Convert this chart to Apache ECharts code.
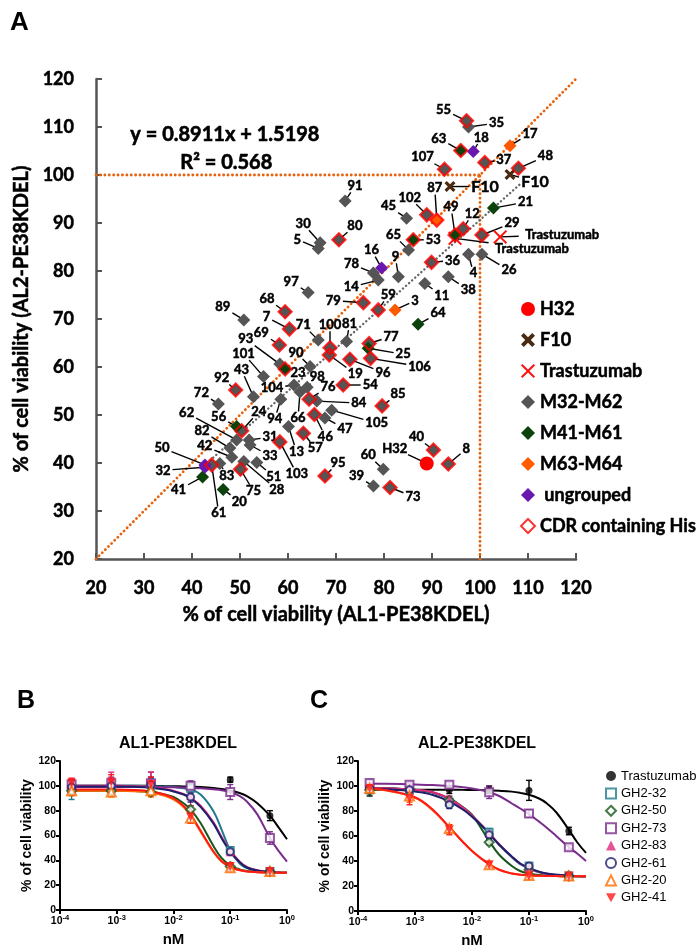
<!DOCTYPE html>
<html>
<head>
<meta charset="UTF-8">
<title>cell viability</title>
<style>
  * { margin: 0; padding: 0 }
  #chart { width: 697px; height: 950px; }
</style>
</head>
<body>
<div id="chart"></div>
<script src="https://cdn.jsdelivr.net/npm/echarts@6/dist/echarts.min.js"></script>
<script>
// ---------- panel A : [id, AL1 viability, AL2 viability]
var m32Points = [
  ['55',97.2,111.3],['35',97.6,110.0],['107',92.6,101.2],['37',101.0,102.6],['48',108.0,101.4],
  ['91',71.9,94.6],['102',88.9,91.7],['45',84.7,91.0],['12',96.5,88.8],['29',100.4,87.5],
  ['80',70.6,86.5],['30',66.7,85.9],['5',66.3,84.7],['65',85.1,84.4],['4',97.6,83.5],
  ['26',100.4,83.5],['36',89.9,81.8],['9',83.0,78.8],['78',77.8,79.6],['14',78.8,78.1],
  ['11',88.5,77.4],['38',93.4,78.8],['79',75.7,73.4],['59',78.8,71.9],['81',72.2,65.3],
  ['77',76.9,64.9],['106',77.2,61.8],['96',72.9,61.6],['19',68.6,62.5],['100',68.75,64.0],
  ['54',71.5,56.25],['85',79.6,51.9],['84',66.0,52.9],['105',69.1,51.0],['47',67.7,49.4],
  ['40',90.3,42.7],['8',93.4,39.8],['60',79.85,38.7],['39',77.8,35.2],['73',81.25,34.9],
  ['95',67.7,37.3],['72',45.5,52.3],['92',49.1,55.2],['43',52.8,53.8],['104',61.25,56.25],
  ['94',58.5,53.3],['66',62.5,54.8],['98',64.0,55.8],['76',64.4,53.3],['46',65.5,50.1],
  ['57',63.2,46.2],['13',60.1,47.6],['62',49.3,44.8],['24',50.35,46.7],['31',51.9,44.8],
  ['33',52.1,43.75],['82',47.9,43.1],['42',48.3,41.2],['83',45.8,39.9],['61',44.1,39.6],
  ['75',50.1,38.7],['28',50.8,40.3],['51',53.5,40.1],['103',58.3,44.4],['97',64.2,75.5],
  ['68',59.4,71.5],['89',50.8,69.8],['7',60.3,67.9],['71',66.3,65.6],['69',58.2,64.6],
  ['93',58.3,60.6],['90',64.6,60.1],['101',54.9,58.0]
];
var m41Points = [
  ['63',96.0,105.1],['49',94.8,87.5],['21',102.8,93.1],['53',86.1,86.5],['64',87.1,68.9],
  ['25',76.7,63.9],['56',49.3,47.6],['41',42.2,37.1],['20',46.5,34.5],['23',59.4,59.6]
];
var m63Points = [['17',106.25,106.1],['87',91.0,90.6],['3',82.3,71.9]];
var ungroupedPoints = [['18',98.6,104.9],['16',79.5,80.6],['50',42.7,39.6],['32',42.7,39.1]];
var h32Points = [['H32',88.9,39.9]];
var f10Points = [['F10',106.25,100.1],['F10',93.75,97.6]];
var trastPoints = [['Trastuzumab',104.2,87.1],['Trastuzumab',94.8,86.8]];
var cdrIds = ['55','63','107','37','48','87','102','49','12','29','80','53','36','79','59','77',
  '106','96','19','100','54','85','40','8','73','95','92','76','46','57','24','61','75','103',
  '68','7','69','23'];
var regX = [42.5, 108.7];
var regY = [39.4, 98.4];

// ---------- panels B / C
var doseX = [0.00016, 0.0008, 0.004, 0.02, 0.1, 0.5];
var fitX = [0.00014,0.0003,0.001,0.002,0.004,0.007,0.01,0.015,0.02,0.03,0.05,0.07,0.1,0.15,0.2,0.3,0.5,0.7,1.0];
var drugNames = ['Trastuzumab','GH2-32','GH2-50','GH2-73','GH2-83','GH2-61','GH2-20','GH2-41'];

var al1Mean = [
  [99,99,98,100,105,76],
  [97,98,101,98,48,31],
  [96,96,95,81,35,31],
  [101,102,102,100,95,58],
  [101,104,103,92,47,31],
  [99,100,101,91,47,31],
  [96,95,96,74,34,31],
  [102,103,101,75,35,31]
];
var al1Err = [
  [4,5,4,3,2,4],[8,6,5,4,3,2],[3,3,3,3,2,2],[4,5,9,4,6,5],
  [5,7,8,8,3,3],[3,4,6,4,3,2],[4,4,5,4,3,2],[4,6,6,5,3,3]
];
var al1Fit = [
  [100,100,100,100,100,99.8,99.7,99.5,99.3,99,98.3,97.5,96.3,94,91.5,86,76,67,57],
  [100,100,100,100,99.8,99.5,99,98,97,93,80,65,48,37,33.5,31.5,30.5,30.2,30],
  [96,96,96,95.8,95,93,91,86,81,70,52,42,36,32.5,31.5,30.8,30.3,30.1,30],
  [99,99,99,99,99,98.9,98.8,98.6,98.4,98,97.2,96.5,95,91.5,87,77,58,48,39],
  [100,100,100,99.7,99,97.5,96,93.5,90.5,84,71,59,48,38.5,34.5,32,30.8,30.3,30],
  [99.5,99.5,99.5,99.2,98.5,97,95.5,93,90,83,70,58,47,38,34,31.8,30.6,30.2,30],
  [96,96,96,95.7,94.5,92,89,83,76,63,47,39,34.5,32,31,30.5,30.2,30.1,30],
  [97,97,97,96.7,95.5,93,90,84,77,64,47.5,39.5,34.5,32,31,30.5,30.2,30.1,30]
];

var al2Mean = [
  [96,97,97,97,96.5,64],
  [97,97,87,63,36,28],
  [97,97,88.5,55,33,28],
  [102.5,101,101,95,78,51],
  [98,98,89,62,35,28],
  [98,97,85,61,36,28],
  [98,92,66,37,28.5,28],
  [98,90,65,37,28,28]
];
var al2Err = [
  [4,3,3,3,8,3],[3,3,3,3,2,2],[3,3,3,2,2,2],[2,2,2,5,3,2],
  [3,3,3,3,2,2],[3,3,3,3,2,2],[3,5,3,2,2,2],[3,5,4,2,2,2]
];
var al2Fit = [
  [97,97,97,97,97,96.9,96.8,96.7,96.5,96.2,95.5,94.5,93,90,86.5,79,65,55,46.5],
  [98.5,98.3,97,95,89.5,82,76,68,62,53,43,37.5,34,31,29.8,28.8,28.2,28,27.8],
  [98.5,98.3,97,95,90,83,77,65,56,45,36,32,30,28.8,28.3,28,27.8,27.7,27.7],
  [102,101.8,101.2,100.8,100,99,98,96.5,95,92,86,82,77.5,71.5,67,60,51,46,40],
  [98.5,98.3,97,95.2,89.8,82.5,76.5,68.5,62.5,53.5,43.5,38,34.3,31.2,30,29,28.3,28,27.8],
  [98,97.5,95.5,93,87.5,81,75.5,68,62,53,43.5,38,34.5,31.5,30,29,28.3,28,27.8],
  [98,96.5,90.5,81,67,55,48,41.5,37.5,33,30,29,28.5,28.2,28,27.9,27.8,27.8,27.8],
  [98.2,96.8,91,81.5,67,55,48,41.5,37.5,33,30,29,28.5,28.2,28,27.9,27.8,27.8,27.8]
];

// ---------- styles / layout (not data)
var drugStyle = [
  {color: '#000000', symbol: 'circle', size: 7, hollow: false},
  {color: '#1f7a8c', symbol: 'rect', size: 7, hollow: true},
  {color: '#17581a', symbol: 'diamond', size: 9, hollow: true},
  {color: '#7a2c8c', symbol: 'rect', size: 8, hollow: true},
  {color: '#e0287c', symbol: 'triangle', size: 9, hollow: false},
  {color: '#1c1f6b', symbol: 'circle', size: 7, hollow: true},
  {color: '#ff6a00', symbol: 'triangle', size: 9, hollow: true},
  {color: '#ff1a1a', symbol: 'path://M0,0L10,0L5,9Z', size: 9, hollow: false}
];

var labelOffset = {
  '55':[-23,-11],'35':[28,-4],'63':[-22,-12],'18':[8,-14],'107':[-22,-12],'37':[19,-3],
  '17':[20,-12],'48':[27,-12],'F10':[25,7],'F10#1':[35,0],'91':[10,-15],'87':[-2,-32],
  '102':[-17,-17],'45':[-18,-12],'49':[-4,-28],'12':[9,-15],'21':[32,-6],'29':[30,-12],
  'Trastuzumab':[62,-2],'Trastuzumab#1':[77,10],'80':[16,-14],'30':[-17,-19],'5':[-21,-9],
  '65':[-15,-15],'53':[20,0],'4':[5,19],'26':[27,16],'36':[21,-2],'16':[-10,-18],'9':[-3,-20],
  '78':[-22,-9],'14':[-27,7],'11':[17,12],'38':[20,13],'79':[-30,-2],'59':[10,-15],'3':[20,-9],
  '64':[20,-11],'81':[3,-18],'77':[22,-7],'25':[35,6],'106':[49,8],'96':[33,13],'19':[26,19],
  '100':[0,-23],'54':[27,0],'85':[16,-12],'84':[42,2],'105':[45,13],'47':[20,11],'40':[-17,-13],
  'H32':[-32,-15],'8':[18,-15],'60':[-15,-14],'39':[-17,-10],'73':[23,9],'95':[13,-13],
  '72':[-17,-11],'92':[-14,-12],'43':[-12,-27],'104':[-22,3],'94':[-6,20],'66':[-2,26],
  '98':[10,-10],'76':[19,-12],'46':[11,22],'57':[12,15],'13':[8,25],'62':[-50,-27],'56':[-18,-10],
  '24':[17,-19],'31':[21,-3],'33':[20,11],'82':[-28,-17],'42':[-27,-11],'83':[7,12],'50':[-43,-17],
  '32':[-42,3],'61':[7,48],'41':[-24,13],'20':[16,12],'75':[13,22],'28':[33,28],'51':[17,14],
  '103':[17,32],'97':[-17,-11],'68':[-18,-13],'89':[-21,-13],'7':[-23,-12],'71':[-15,-15],
  '69':[-18,-12],'93':[-34,-25],'23':[13,4],'90':[-14,-14],'101':[-20,-23]
};

var xMark = 'path://M0,2L2,0L5,3L8,0L10,2L7,5L10,8L8,10L5,7L2,10L0,8L3,5Z';
var xThin = 'path://M1,0L5,4L9,0L10,1L6,5L10,9L9,10L5,6L1,10L0,9L4,5L0,1Z';
var MAIN_FONT = 'Lato';
var PANEL_FONT = 'Liberation Sans';
var HEAVY = {textBorderColor: '#000', textBorderWidth: 0.5};

function xy(rows) { return rows.map(function (r) { return [r[1], r[2]]; }); }

// labels + leader lines for panel A
var labelItems = [];
var seen = {};
[m32Points, m41Points, m63Points, ungroupedPoints, h32Points, f10Points, trastPoints].forEach(function (rows) {
  rows.forEach(function (r) {
    var n = seen[r[0]] || 0;
    seen[r[0]] = n + 1;
    var key = n ? r[0] + '#' + n : r[0];
    var off = labelOffset[key] || [12, -12];
    labelItems.push({x: r[1], y: r[2], text: r[0], dx: off[0], dy: off[1], size: r[0] === 'F10' ? 16 : 13});
  });
});

var allGroupRows = m32Points.concat(m41Points, m63Points, ungroupedPoints);
var cdrRows = allGroupRows.filter(function (r) { return cdrIds.indexOf(r[0]) >= 0; });

function renderLabel(params, api) {
  var it = labelItems[params.dataIndex];
  var p = api.coord([api.value(0), api.value(1)]);
  var lx = p[0] + it.dx, ly = p[1] + it.dy;
  var hw = it.text.length * it.size * 0.29 + 2, hh = it.size * 0.5;
  var t = Math.min(it.dx ? hw / Math.abs(it.dx) : 99, it.dy ? hh / Math.abs(it.dy) : 99);
  var kids = [];
  if (t < 1) {
    kids.push({type: 'line', shape: {x1: p[0], y1: p[1], x2: lx - it.dx * t, y2: ly - it.dy * t},
      style: {stroke: '#000', lineWidth: 1.4}});
  }
  kids.push({type: 'text', style: {text: it.text, x: lx, y: ly, align: 'center', verticalAlign: 'middle',
    textAlign: 'center', textVerticalAlign: 'middle', stroke: '#000', lineWidth: 0.5,
    font: 'bold ' + it.size + 'px ' + MAIN_FONT, fill: '#000'}});
  return {type: 'group', children: kids};
}

function renderErr(params, api) {
  var x = api.value(0), y = api.value(1), e = api.value(2);
  var a = api.coord([x, y + e]), b = api.coord([x, y - e]);
  var st = {stroke: api.visual('color'), lineWidth: 1.4};
  return {type: 'group', children: [
    {type: 'line', shape: {x1: a[0], y1: a[1], x2: b[0], y2: b[1]}, style: st},
    {type: 'line', shape: {x1: a[0] - 3, y1: a[1], x2: a[0] + 3, y2: a[1]}, style: st},
    {type: 'line', shape: {x1: b[0] - 3, y1: b[1], x2: b[0] + 3, y2: b[1]}, style: st}
  ]};
}

function powLabel(v) {
  var e = Math.round(Math.log(v) / Math.LN10);
  return '{b|10}{s|' + e + '}';
}

var series = [];
var dotted = {type: [0.1, 4.3], cap: 'round', width: 2.8, color: '#e8610c'};
function refLine(data, style) {
  series.push({type: 'line', xAxisIndex: 0, yAxisIndex: 0, data: data, symbol: 'none', silent: true,
    lineStyle: style, z: 1});
}
refLine([[20, 20], [120, 120]], dotted);
refLine([[20, 100], [100, 100]], dotted);
refLine([[100, 20], [100, 100]], dotted);
refLine([[regX[0], regY[0]], [regX[1], regY[1]]], {type: [0.1, 4], cap: 'round', width: 2.4, color: '#666'});

series.push({type: 'custom', xAxisIndex: 0, yAxisIndex: 0, renderItem: renderLabel, z: 2, silent: true,
  data: labelItems.map(function (d) { return [d.x, d.y]; }), encode: {x: 0, y: 1}});

function groupSeries(name, rows, symbol, size, color) {
  series.push({name: name, type: 'scatter', xAxisIndex: 0, yAxisIndex: 0, data: xy(rows),
    symbol: symbol, symbolSize: size, itemStyle: {color: color, opacity: 1}, z: 3});
}
groupSeries('H32', h32Points, 'circle', 14, '#ff0000');
groupSeries('F10', f10Points, xMark, 11, '#4a2a10');
groupSeries('Trastuzumab', trastPoints, xThin, 14, '#ff1010');
groupSeries('M32-M62', m32Points, 'diamond', 13, '#555555');
groupSeries('M41-M61', m41Points, 'diamond', 13, '#0c420c');
groupSeries('M63-M64', m63Points, 'diamond', 13, '#ff5a00');
groupSeries(' ungrouped', ungroupedPoints, 'diamond', 13, '#6a17b0');
series.push({name: 'CDR containing His', type: 'scatter', xAxisIndex: 0, yAxisIndex: 0, data: xy(cdrRows),
  symbol: 'diamond', symbolSize: 13, z: 4,
  itemStyle: {color: 'rgba(255,255,255,0)', borderColor: '#ff0000', borderWidth: 2.2}});

// panels B and C
function panelSeries(axisIdx, means, errs, fits) {
  drugNames.forEach(function (nm, i) {
    var s = drugStyle[i];
    var sname = nm === 'Trastuzumab' ? 'Trastuzumab ' : nm;
    series.push({type: 'line', xAxisIndex: axisIdx, yAxisIndex: axisIdx, symbol: 'none', smooth: 0.4,
      silent: true, z: 2, lineStyle: {color: s.color, width: 2},
      data: fitX.map(function (x, j) { return [x, fits[i][j]]; })});
    series.push({type: 'custom', xAxisIndex: axisIdx, yAxisIndex: axisIdx, renderItem: renderErr, z: 3,
      silent: true, itemStyle: {color: s.color}, encode: {x: 0, y: 1},
      data: doseX.map(function (x, j) { return [x, means[i][j], errs[i][j]]; })});
    series.push({name: sname, type: 'scatter', xAxisIndex: axisIdx, yAxisIndex: axisIdx, z: 4,
      symbol: s.symbol, symbolSize: s.size,
      itemStyle: s.hollow ? {color: '#ffffff', borderColor: s.color, borderWidth: 2} : {color: s.color},
      data: doseX.map(function (x, j) { return [x, means[i][j]]; })});
  });
}
panelSeries(1, al1Mean, al1Err, al1Fit);
panelSeries(2, al2Mean, al2Err, al2Fit);

var panelY = function (idx) {
  return {gridIndex: idx, type: 'value', min: 0, max: 120, interval: 20,
    name: '% of cell viability', nameLocation: 'middle', nameGap: idx === 1 ? 21 : 24,
    nameTextStyle: {fontFamily: PANEL_FONT, fontWeight: 'bold', fontSize: 14, color: '#000'},
    axisLine: {show: true, lineStyle: {color: '#000', width: 2}},
    axisTick: {show: true, inside: false, length: 4, lineStyle: {width: 2}},
    axisLabel: {fontFamily: PANEL_FONT, fontWeight: 'bold', fontSize: 10.5, color: '#000', margin: 4},
    splitLine: {show: false}};
};
var panelX = function (idx) {
  return {gridIndex: idx, type: 'log', logBase: 10, min: 0.0001, max: 1,
    name: 'nM', nameLocation: 'middle', nameGap: 22,
    nameTextStyle: {fontFamily: PANEL_FONT, fontWeight: 'bold', fontSize: 15, color: '#000'},
    axisLine: {show: true, lineStyle: {color: '#000', width: 2}},
    axisTick: {show: true, inside: false, length: 4, lineStyle: {width: 2}},
    minorTick: {show: false},
    axisLabel: {formatter: powLabel, margin: 4, rich: {
      b: {fontFamily: PANEL_FONT, fontWeight: 'bold', fontSize: 10.5, color: '#000', lineHeight: 14},
      s: {fontFamily: PANEL_FONT, fontWeight: 'bold', fontSize: 7.5, color: '#000', lineHeight: 8, verticalAlign: 'top'}
    }},
    splitLine: {show: false}};
};

var mainText = function (size) {
  return Object.assign({fontFamily: MAIN_FONT, fontWeight: 'bold', fontSize: size, color: '#000'}, HEAVY);
};

var chart = echarts.init(document.getElementById('chart'));
chart.setOption({
  animation: false,
  backgroundColor: '#ffffff',
  textStyle: {fontFamily: MAIN_FONT},
  title: [
    {text: 'A', left: 5, top: 5, textStyle: {fontFamily: PANEL_FONT, fontWeight: 'bold', fontSize: 26, color: '#000'}},
    {text: 'B', left: 12, top: 684, textStyle: {fontFamily: PANEL_FONT, fontWeight: 'bold', fontSize: 25, color: '#000'}},
    {text: 'C', left: 305, top: 684, textStyle: {fontFamily: PANEL_FONT, fontWeight: 'bold', fontSize: 25, color: '#000'}},
    {text: 'AL1-PE38KDEL', left: 173, top: 731, textAlign: 'center',
      textStyle: {fontFamily: PANEL_FONT, fontWeight: 'bold', fontSize: 16, color: '#000'}},
    {text: 'AL2-PE38KDEL', left: 472, top: 731, textAlign: 'center',
      textStyle: {fontFamily: PANEL_FONT, fontWeight: 'bold', fontSize: 16, color: '#000'}}
  ],
  graphic: [
    {type: 'text', left: 130, top: 124, style: {text: 'y = 0.8911x + 1.5198', font: 'bold 20px ' + MAIN_FONT,
      fill: '#000', stroke: '#000', lineWidth: 0.6}},
    {type: 'text', left: 180, top: 152, style: {text: 'R² = 0.568', font: 'bold 20px ' + MAIN_FONT,
      fill: '#000', stroke: '#000', lineWidth: 0.6}}
  ],
  legend: [
    {orient: 'vertical', left: 515, top: 294, itemGap: 11, itemWidth: 14, itemHeight: 14,
      data: ['H32', 'F10', 'Trastuzumab', 'M32-M62', 'M41-M61', 'M63-M64', ' ungrouped', 'CDR containing His'],
      textStyle: Object.assign(mainText(18), {lineHeight: 20}),
      selectedMode: false},
    {orient: 'vertical', left: 600, top: 764, itemGap: 3.4, itemWidth: 10, itemHeight: 10,
      data: ['Trastuzumab ', 'GH2-32', 'GH2-50', 'GH2-73', 'GH2-83', 'GH2-61', 'GH2-20', 'GH2-41'],
      formatter: function (n) { return n.trim(); },
      textStyle: {fontFamily: PANEL_FONT, fontSize: 13, color: '#000', lineHeight: 14},
      selectedMode: false}
  ],
  grid: [
    {left: 96, top: 79, width: 480, height: 480},
    {left: 60, top: 761, width: 227, height: 149},
    {left: 358, top: 761, width: 228, height: 150}
  ],
  xAxis: [
    {gridIndex: 0, type: 'value', min: 20, max: 120, interval: 10,
      name: '% of cell viability (AL1-PE38KDEL)', nameLocation: 'middle', nameGap: 46,
      nameTextStyle: mainText(20),
      axisLine: {lineStyle: {color: '#555', width: 2.5}},
      axisTick: {inside: true, length: 6, lineStyle: {color: '#555', width: 2}},
      axisLabel: Object.assign(mainText(18), {margin: 20}),
      splitLine: {show: false}},
    panelX(1), panelX(2)
  ],
  yAxis: [
    {gridIndex: 0, type: 'value', min: 20, max: 120, interval: 10,
      name: '% of cell viability (AL2-PE38KDEL)', nameLocation: 'middle', nameGap: 62,
      nameTextStyle: mainText(20),
      axisLine: {show: true, lineStyle: {color: '#555', width: 2.5}},
      axisTick: {show: true, inside: true, length: 6, lineStyle: {color: '#555', width: 2}},
      axisLabel: Object.assign(mainText(18), {margin: 22}),
      splitLine: {show: false}},
    panelY(1), panelY(2)
  ],
  series: series
});
</script>
</body>
</html>
